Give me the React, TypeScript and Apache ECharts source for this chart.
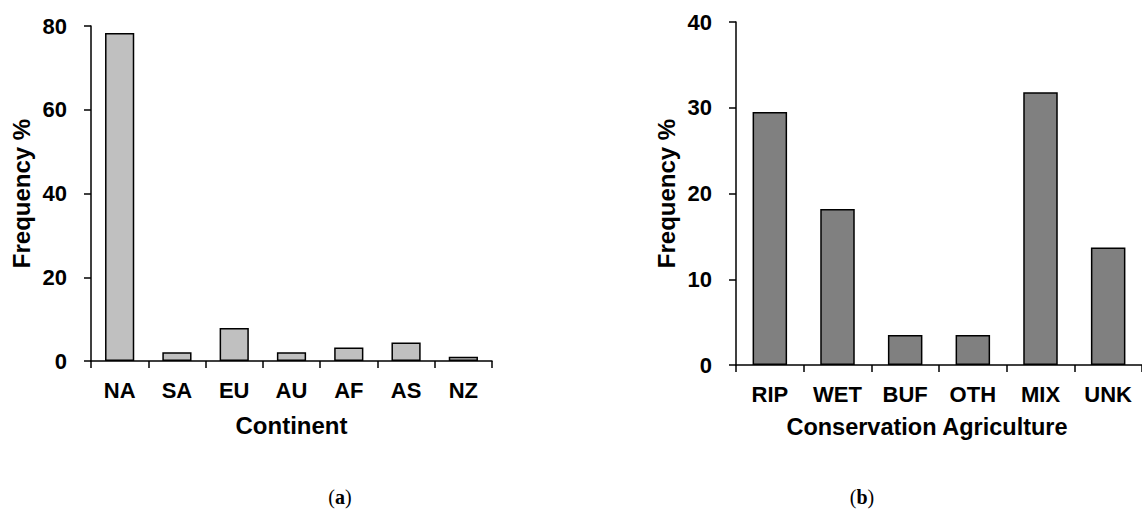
import React, { useEffect, useRef } from "react";
import * as echarts from "echarts";

const continents = ["NA", "SA", "EU", "AU", "AF", "AS", "NZ"];
const continentFreq = [78.3, 2.1, 7.9, 2.1, 3.2, 4.4, 1.0];
const practices = ["RIP", "WET", "BUF", "OTH", "MIX", "UNK"];
const practiceFreq = [29.5, 18.2, 3.5, 3.5, 31.8, 13.7];
const leftTicks = { min: 0, max: 80, interval: 20 };
const rightTicks = { min: 0, max: 40, interval: 10 };

const FONT = "'Liberation Sans', Arial, sans-serif";

function axisCommon() {
  return {
    axisLine: { show: true, lineStyle: { color: "#000", width: 1.5 } },
    axisTick: { show: true, length: 7, lineStyle: { color: "#000", width: 1.5 } },
    splitLine: { show: false },
  };
}

export default function App() {
  const ref = useRef<HTMLDivElement>(null);
  useEffect(() => {
    if (!ref.current) return;
    const chart = echarts.init(ref.current, null, { renderer: "svg" });
    const labelStyle = { color: "#000", fontSize: 22, fontWeight: "bold", fontFamily: FONT };
    const nameStyle = { color: "#000", fontSize: 24, fontWeight: "bold", fontFamily: FONT };
    chart.setOption({
      animation: false,
      backgroundColor: "#fff",
      grid: [
        { left: 91, top: 26, width: 401, height: 335 },
        { left: 736, top: 22, width: 410, height: 343 },
      ],
      xAxis: [
        {
          type: "category",
          gridIndex: 0,
          data: continents,
          ...axisCommon(),
          axisLabel: { ...labelStyle, margin: 18, interval: 0 },
          name: "Continent",
          nameLocation: "middle",
          nameGap: 52,
          nameTextStyle: nameStyle,
        },
        {
          type: "category",
          gridIndex: 1,
          data: practices,
          ...axisCommon(),
          axisLabel: { ...labelStyle, margin: 18, interval: 0 },
          name: "Conservation Agriculture",
          nameLocation: "middle",
          nameGap: 50,
          nameTextStyle: { ...nameStyle, fontSize: 23.5, padding: [0, 24, 0, 0] },
        },
      ],
      yAxis: [
        {
          type: "value",
          gridIndex: 0,
          ...leftTicks,
          ...axisCommon(),
          axisLabel: { ...labelStyle, margin: 24 },
          name: "Frequency %",
          nameLocation: "middle",
          nameGap: 58,
          nameTextStyle: nameStyle,
        },
        {
          type: "value",
          gridIndex: 1,
          ...rightTicks,
          ...axisCommon(),
          axisLabel: { ...labelStyle, margin: 24 },
          name: "Frequency %",
          nameLocation: "middle",
          nameGap: 58,
          nameTextStyle: nameStyle,
        },
      ],
      series: [
        {
          type: "bar",
          xAxisIndex: 0,
          yAxisIndex: 0,
          data: continentFreq,
          barWidth: "51%",
          itemStyle: { color: "#c0c0c0", borderColor: "#000", borderWidth: 1.5 },
        },
        {
          type: "bar",
          xAxisIndex: 1,
          yAxisIndex: 1,
          data: practiceFreq,
          barWidth: "51%",
          itemStyle: { color: "#808080", borderColor: "#000", borderWidth: 1.5 },
        },
      ],
      graphic: [
        {
          type: "text",
          x: 340,
          y: 497,
          style: {
            text: "({b|a})",
            align: "center",
            verticalAlign: "middle",
            font: "20px 'Liberation Serif', serif",
            fill: "#000",
            rich: { b: { fontWeight: "bold", fontSize: 20, fontFamily: "'Liberation Serif', serif" } },
          },
        },
        {
          type: "text",
          x: 862,
          y: 497,
          style: {
            text: "({b|b})",
            align: "center",
            verticalAlign: "middle",
            font: "20px 'Liberation Serif', serif",
            fill: "#000",
            rich: { b: { fontWeight: "bold", fontSize: 20, fontFamily: "'Liberation Serif', serif" } },
          },
        },
      ],
    });
    return () => chart.dispose();
  }, []);
  return (
    <div
      ref={ref}
      style={{ position: "absolute", left: 0, top: 0, width: 1142, height: 522, background: "#fff" }}
    />
  );
}
